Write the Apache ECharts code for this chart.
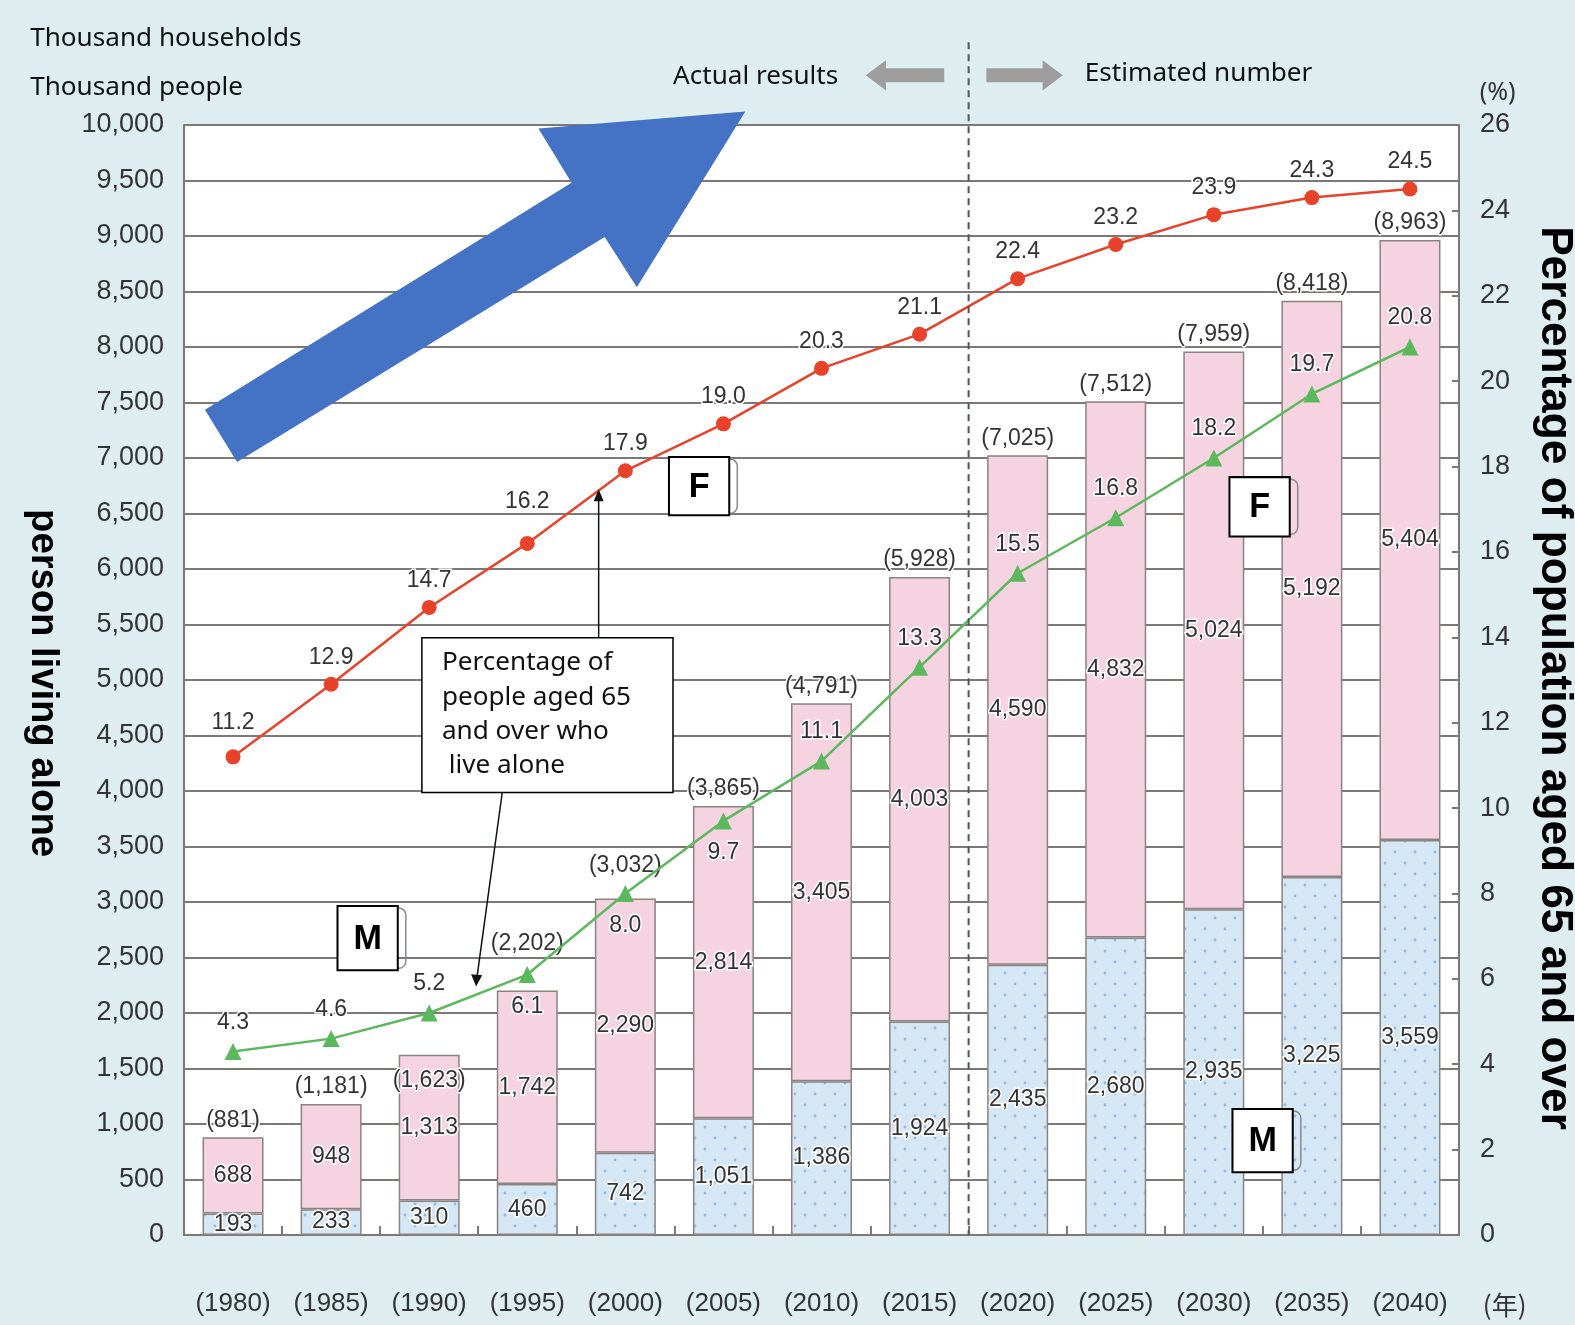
<!DOCTYPE html>
<html>
<head>
<meta charset="utf-8">
<script src="https://cdn.jsdelivr.net/npm/echarts@6/dist/echarts.min.js"></script>
<style>
html,body{margin:0;padding:0;background:#deedf0;}
#main{width:1575px;height:1325px;}
</style>
</head>
<body>
<div id="main"></div>
<script>
// data
var years = ['1980','1985','1990','1995','2000','2005','2010','2015','2020','2025','2030','2035','2040'];
var maleAlone = [193, 233, 310, 460, 742, 1051, 1386, 1924, 2435, 2680, 2935, 3225, 3559];
var femaleAlone = [688, 948, 1313, 1742, 2290, 2814, 3405, 4003, 4590, 4832, 5024, 5192, 5404];
var totalAlone = [881, 1181, 1623, 2202, 3032, 3865, 4791, 5928, 7025, 7512, 7959, 8418, 8963];
var femaleRate = [11.2, 12.9, 14.7, 16.2, 17.9, 19.0, 20.3, 21.1, 22.4, 23.2, 23.9, 24.3, 24.5];
var maleRate = [4.3, 4.6, 5.2, 6.1, 8.0, 9.7, 11.1, 13.3, 15.5, 16.8, 18.2, 19.7, 20.8];

var gridCol = '#7d7875';
var txtCol = '#333';
var numFont = 'Liberation Sans';
var jpFont = 'Noto Sans';

function fmt(v) { return Number(v).toLocaleString('en-US'); }

// dotted blue fill for the M bars
function dotPattern() {
    var c = document.createElement('canvas');
    c.width = 20; c.height = 22;
    var g = c.getContext('2d');
    g.fillStyle = '#d5e6f5';
    g.fillRect(0, 0, 20, 22);
    g.fillStyle = '#93b9e2';
    [[5, 5], [15, 16]].forEach(function (p) {
        g.beginPath(); g.arc(p[0], p[1], 1.4, 0, Math.PI * 2); g.fill();
    });
    return c;
}

var barLabel = {
    show: true, position: 'inside', color: txtCol, fontSize: 23, fontFamily: numFont,
    textBorderColor: '#fff', textBorderWidth: 3,
    formatter: function (p) { return fmt(p.value); }
};

// label tweaks so the text dodges the lines
var belowYears = ['1995', '2000', '2005'];
var totalShift = {'1990': [0, 43], '1995': [0, -30], '2000': [0, -16]};
var redShift = {'1980': [0, -7], '1995': [0, -15]};

var myChart = echarts.init(document.getElementById('main'));
var option = {
    backgroundColor: '#deedf0',
    animation: false,
    grid: {
        left: 184, right: 116, top: 125, bottom: 90,
        show: true, backgroundColor: '#fff', borderWidth: 0,
        containLabel: false, outerBoundsMode: 'none'
    },
    xAxis: {
        type: 'category',
        data: years,
        axisLine: {lineStyle: {color: gridCol, width: 2}},
        axisTick: {show: true, inside: true, length: 9, lineStyle: {color: gridCol, width: 2}},
        axisLabel: {
            interval: 0, margin: 56, color: txtCol, fontSize: 26, fontFamily: numFont,
            formatter: function (v) { return '(' + v + ')'; }
        },
        splitLine: {show: false}
    },
    yAxis: [{
        type: 'value', min: 0, max: 10000, interval: 500,
        axisLine: {show: true, lineStyle: {color: gridCol, width: 2}},
        axisTick: {show: false},
        axisLabel: {margin: 20, color: txtCol, fontSize: 27, fontFamily: numFont, formatter: fmt},
        splitLine: {show: true, lineStyle: {color: gridCol, width: 2}}
    }, {
        type: 'value', min: 0, max: 26, interval: 2,
        axisLine: {show: true, lineStyle: {color: gridCol, width: 2}},
        axisTick: {show: true, inside: true, length: 7, lineStyle: {color: gridCol, width: 2}},
        axisLabel: {margin: 21, color: txtCol, fontSize: 27, fontFamily: numFont},
        splitLine: {show: false}
    }],
    series: [{
        name: 'M', type: 'bar', stack: 'alone', barWidth: 61,
        data: maleAlone,
        itemStyle: {color: {image: dotPattern(), repeat: 'repeat'}, borderColor: '#8a8380', borderWidth: 1.5},
        label: barLabel
    }, {
        name: 'F', type: 'bar', stack: 'alone', barWidth: 61,
        data: femaleAlone,
        itemStyle: {color: '#f5d3e1', borderColor: '#8a8380', borderWidth: 1.5},
        label: barLabel
    }, {
        name: 'total', type: 'scatter', symbolSize: 1,
        data: totalAlone.map(function (v, i) {
            var s = totalShift[years[i]];
            return s ? {value: v, label: {offset: s}} : v;
        }),
        itemStyle: {color: 'rgba(0,0,0,0)', opacity: 1},
        label: {
            show: true, position: 'top', distance: 5, color: txtCol, opacity: 1,
            fontSize: 23, fontFamily: numFont,
            textBorderColor: '#fff', textBorderWidth: 3,
            formatter: function (p) { return '(' + fmt(p.value) + ')'; }
        },
        emphasis: {disabled: true},
        z: 4
    }, {
        name: 'F rate', type: 'line', yAxisIndex: 1, z: 6,
        data: femaleRate.map(function (v, i) {
            var s = redShift[years[i]];
            return s ? {value: v, label: {offset: s}} : v;
        }),
        symbol: 'circle', symbolSize: 15,
        lineStyle: {color: '#e8432a', width: 2.5},
        itemStyle: {color: '#e8432a'},
        label: {
            show: true, position: 'top', distance: 8, color: txtCol, fontSize: 23, fontFamily: numFont,
            textBorderColor: '#fff', textBorderWidth: 3,
            formatter: function (p) { return p.value.toFixed(1); }
        }
    }, {
        name: 'M rate', type: 'line', yAxisIndex: 1, z: 6,
        data: maleRate.map(function (v, i) {
            return belowYears.indexOf(years[i]) >= 0 ? {value: v, label: {position: 'bottom', distance: 12}} : v;
        }),
        symbol: 'triangle', symbolSize: 17,
        lineStyle: {color: '#5cb85c', width: 2.5},
        itemStyle: {color: '#5cb85c'},
        label: {
            show: true, position: 'top', distance: 9, color: txtCol, fontSize: 23, fontFamily: numFont,
            textBorderColor: '#fff', textBorderWidth: 3,
            formatter: function (p) { return p.value.toFixed(1); }
        }
    }]
};
myChart.setOption(option);

// boundary between actual and estimated
var xa = myChart.convertToPixel({xAxisIndex: 0}, '2015');
var xb = myChart.convertToPixel({xAxisIndex: 0}, '2020');
var xMid = (xa + xb) / 2;
var yBase = myChart.convertToPixel({yAxisIndex: 0}, 0);

function txt(s, x, y, size, opt) {
    opt = opt || {};
    return {
        type: 'text', x: x, y: y, rotation: opt.rotation || 0, z: 100,
        style: {
            text: s, fill: opt.color || '#111', fontSize: size, fontFamily: opt.family || jpFont,
            fontWeight: opt.weight || 'normal', align: opt.align || 'left', verticalAlign: 'middle',
            lineHeight: opt.lineHeight
        }
    };
}
function box(letter, x, y, w, h) {
    return [{
        type: 'rect', z: 99, shape: {x: x + 6, y: y + 2, width: w + 2, height: h - 4, r: 7},
        style: {fill: 'none', stroke: '#8a8a8a', lineWidth: 1.5}
    }, {
        type: 'rect', z: 100, shape: {x: x, y: y, width: w, height: h},
        style: {fill: '#fff', stroke: '#000', lineWidth: 2}
    }, txt(letter, x + w / 2, y + h / 2 + 1, 34, {family: 'Liberation Sans', weight: 'bold', align: 'center', color: '#000'})];
}

// annotation layer, laid out on a 1568-wide sketch and scaled up
var S = 1575 / 1568;
var notes = [
    txt('Thousand households', 30, 38, 26),
    txt('Thousand people', 30, 87, 26),
    txt('Actual results', 670, 76, 26),
    txt('Estimated number', 1080, 73, 26),
    txt('(%)', 1491, 92, 25, {align: 'center', color: txtCol}),
    txt('(年)', 1498, 1299, 26, {align: 'center', color: txtCol, family: 'Noto Sans CJK JP'}),
    txt('person living alone', 42, 680, 38, {family: 'Liberation Sans', weight: 'bold', align: 'center', rotation: -Math.PI / 2, color: '#000'}),
    txt('Percentage of population aged 65 and over', 1547, 675, 44, {family: 'Liberation Sans', weight: 'bold', align: 'center', rotation: -Math.PI / 2, color: '#000'}),
    // grey arrows
    {type: 'polygon', z: 100, shape: {points: [[862, 75], [882, 60], [882, 68], [940, 68], [940, 82], [882, 82], [882, 90]]},
        style: {fill: '#9d9d9d'}},
    {type: 'polygon', z: 100, shape: {points: [[982, 68], [1038, 68], [1038, 60], [1058, 75], [1038, 90], [1038, 82], [982, 82]]},
        style: {fill: '#9d9d9d'}},
    // big blue arrow
    {type: 'polygon', z: 100, shape: {points: [[204, 408], [569, 182], [536, 128], [742, 111], [634, 286], [602, 236], [236, 460]]},
        style: {fill: '#4472c4'}},
    // note box
    {type: 'rect', z: 100, shape: {x: 420, y: 635, width: 250, height: 154},
        style: {fill: '#fff', stroke: '#000', lineWidth: 1.5}},
    txt('Percentage of\npeople aged 65\nand over who\n live alone', 440, 711, 26, {lineHeight: 34}),
    // pointer lines
    {type: 'line', z: 100, shape: {x1: 596, y1: 635, x2: 596, y2: 496}, style: {stroke: '#111', lineWidth: 1.5}},
    {type: 'polygon', z: 100, shape: {points: [[596, 487], [591, 499], [601, 499]]}, style: {fill: '#111'}},
    {type: 'line', z: 100, shape: {x1: 500, y1: 789, x2: 475, y2: 972}, style: {stroke: '#111', lineWidth: 1.5}},
    {type: 'polygon', z: 100, shape: {points: [[474, 982], [469, 970], [480, 971]]}, style: {fill: '#111'}}
];
notes = notes
    .concat(box('F', 666, 455, 60, 58))
    .concat(box('F', 1224, 475, 60, 59))
    .concat(box('M', 336, 902, 60, 64))
    .concat(box('M', 1227, 1104, 60, 63));

myChart.setOption({graphic: [
    {type: 'line', z: 50, shape: {x1: xMid, y1: 42 * S, x2: xMid, y2: yBase},
        style: {stroke: '#555', lineWidth: 2, lineDash: [7, 5]}},
    {type: 'group', x: 0, y: 0, scaleX: S, scaleY: S, children: notes}
]});
</script>
</body>
</html>
